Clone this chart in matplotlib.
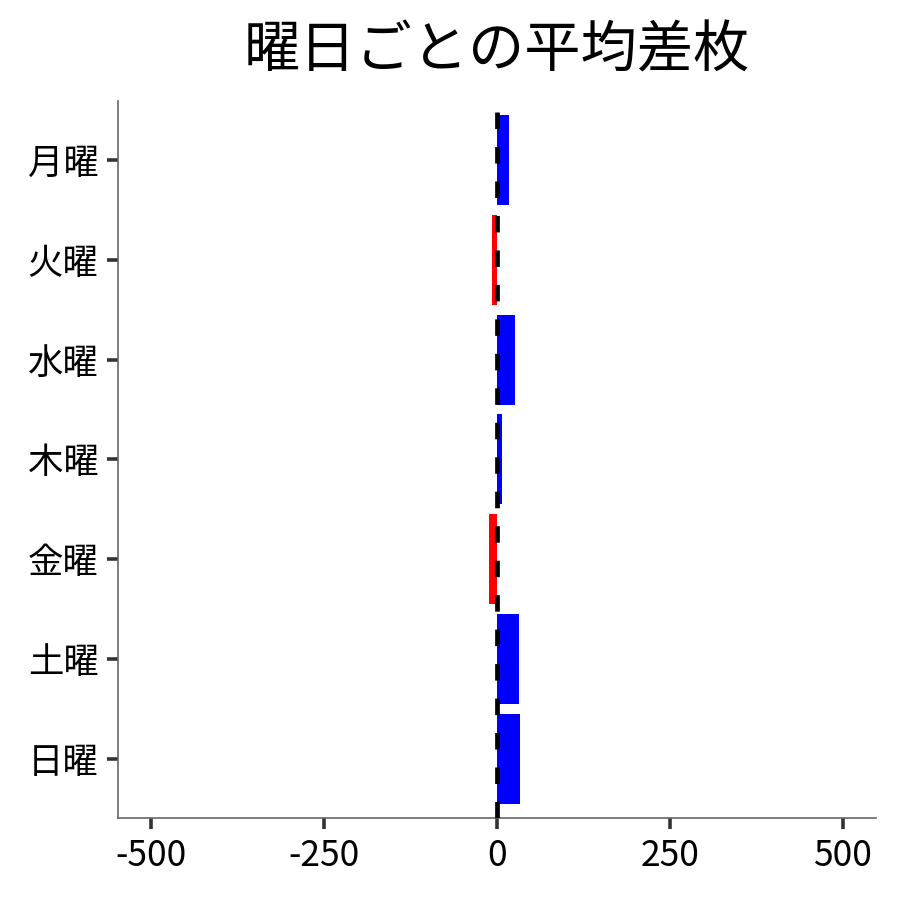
import numpy as np
import matplotlib.pyplot as plt

plt.rcParams['font.family'] = ['Noto Sans CJK JP', 'DejaVu Sans']
plt.rcParams['axes.unicode_minus'] = False

days = ['月曜', '火曜', '水曜', '木曜', '金曜', '土曜', '日曜']
avg_diff = [18, -7, 26, 8, -11, 32, 33]
x_ticks = [-500, -250, 0, 250, 500]

colors = ['blue' if v >= 0 else 'red' for v in avg_diff]
y = np.arange(len(days))

fig = plt.figure(figsize=(9, 9), dpi=100)
ax = fig.add_axes([0.131, 0.091, 0.842, 0.797])
ax.barh(y, avg_diff, height=0.9, color=colors, zorder=2)
ax.axvline(0, color='black', lw=3.4, linestyle=(0, (3.5, 3.8)), zorder=3)

ax.set_yticks(y)
ax.set_yticklabels(days)
ax.set_xticks(x_ticks)
ax.set_xticklabels([str(t) for t in x_ticks])
ax.set_xlim(-548, 548)
ax.set_ylim(6.59, -0.59)

for s in ['top', 'right']:
    ax.spines[s].set_visible(False)
for s in ['left', 'bottom']:
    ax.spines[s].set_color('#666666')
    ax.spines[s].set_linewidth(1.2)
ax.tick_params(axis='both', length=8, width=2.6, color='#333333', labelsize=25.5, pad=6)

ax.set_title('曜日ごとの平均差枚', fontsize=40.5, pad=24)

plt.savefig('out.png', dpi=100)
